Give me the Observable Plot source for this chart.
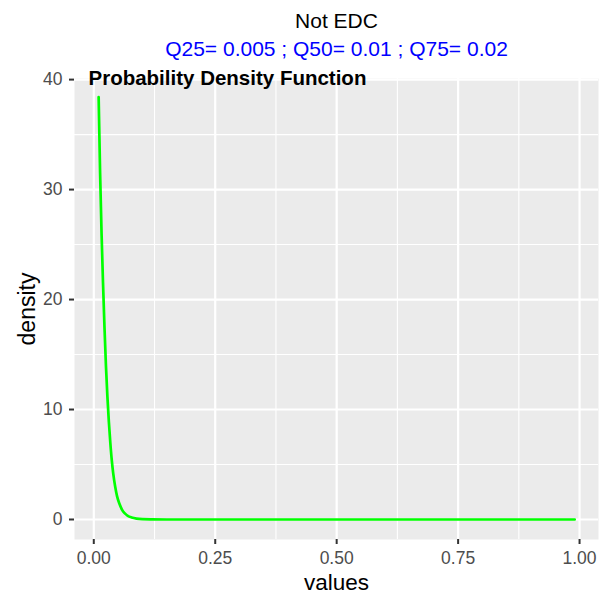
<!DOCTYPE html>
<html>
<head>
<meta charset="utf-8">
<script src="https://cdn.jsdelivr.net/npm/d3@7"></script>
<script src="https://cdn.jsdelivr.net/npm/@observablehq/plot@0.6"></script>
<style>
  html, body { margin: 0; padding: 0; background: white; }
</style>
</head>
<body>
<div id="chart"></div>
<script>
// Data
const values = [0.010, 0.013, 0.016, 0.019, 0.022, 0.025, 0.028, 0.031, 0.034, 0.037,
                0.040, 0.044, 0.048, 0.053, 0.058, 0.064, 0.070, 0.078, 0.088, 0.100,
                0.120, 0.150, 0.250, 0.500, 0.750, 0.990];
const density = [38.4, 31.5, 26.0, 21.5, 17.5, 14.0, 11.2, 8.9, 7.0, 5.4,
                 4.2, 3.0, 2.1, 1.4, 0.9, 0.55, 0.33, 0.18, 0.08, 0.03,
                 0.01, 0.0, 0.0, 0.0, 0.0, 0.0];
const xTicks = [0, 0.25, 0.5, 0.75, 1];
const xMinor = [0.125, 0.375, 0.625, 0.875];
const yTicks = [0, 10, 20, 30, 40];
const yMinor = [5, 15, 25, 35];
const titleText = "Not EDC";
const subtitleText = "Q25= 0.005 ; Q50= 0.01 ; Q75= 0.02";
const annotationText = "Probability Density Function";
const xLabel = "values";
const yLabel = "density";

const data = values.map((v, i) => ({x: v, y: density[i]}));
const font = "Liberation Sans, Arial, Helvetica, sans-serif";

const chart = Plot.plot({
  width: 613,
  height: 599,
  marginLeft: 74,
  marginRight: 15,
  marginTop: 78,
  marginBottom: 60,
  style: {fontFamily: font, background: "white", overflow: "visible"},
  x: {domain: [-0.0397, 1.039]},
  y: {domain: [-1.82, 40.1]},
  marks: [
    Plot.frame({fill: "#EBEBEB", stroke: null}),
    Plot.gridX(xMinor, {stroke: "white", strokeOpacity: 1, strokeWidth: 1.1}),
    Plot.gridY(yMinor, {stroke: "white", strokeOpacity: 1, strokeWidth: 1.1}),
    Plot.gridX(xTicks, {stroke: "white", strokeOpacity: 1, strokeWidth: 2.2}),
    Plot.gridY(yTicks, {stroke: "white", strokeOpacity: 1, strokeWidth: 2.2}),
    Plot.line(data, {x: "x", y: "y", stroke: "#00FF00", strokeWidth: 2.7, curve: "monotone-x"}),
    Plot.axisX(xTicks, {tickFormat: d3.format(".2f"), tickSize: 5, tickPadding: 7,
      stroke: "#333333", strokeWidth: 2, fill: "#4D4D4D", fontSize: 17.5, label: null}),
    Plot.axisY(yTicks, {tickFormat: d => String(d), tickSize: 5, tickPadding: 7,
      stroke: "#333333", strokeWidth: 2, fill: "#4D4D4D", fontSize: 17.5, label: null}),
    Plot.text([titleText], {frameAnchor: "top", dy: -51, lineAnchor: "bottom",
      text: d => d, fontSize: 21, fill: "black"}),
    Plot.text([subtitleText], {frameAnchor: "top", dy: -23, lineAnchor: "bottom",
      text: d => d, fontSize: 21, fill: "#0000FF"}),
    Plot.text([annotationText], {frameAnchor: "top-left", dx: 14, dy: 6, lineAnchor: "bottom",
      textAnchor: "start", text: d => d, fontSize: 20.5, fontWeight: "bold", fill: "black"}),
    Plot.text([xLabel], {frameAnchor: "bottom", dy: 50, lineAnchor: "bottom",
      text: d => d, fontSize: 22.5, fill: "black"}),
    Plot.text([yLabel], {frameAnchor: "left", dx: -47, rotate: -90, lineAnchor: "middle",
      textAnchor: "middle", text: d => d, fontSize: 23, fill: "black"})
  ]
});
document.getElementById("chart").appendChild(chart);
</script>
</body>
</html>
